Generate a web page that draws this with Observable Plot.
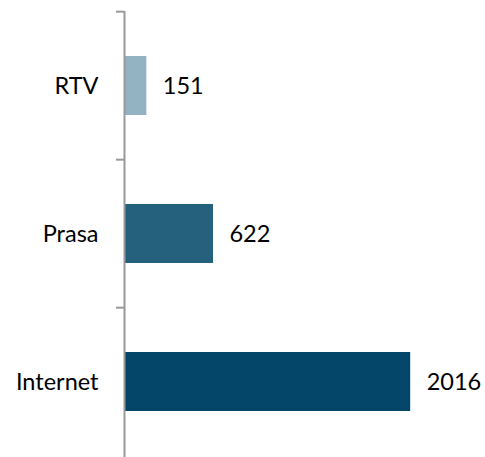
<!DOCTYPE html>
<html>
<head>
<meta charset="utf-8">
<script src="https://cdn.jsdelivr.net/npm/d3@7"></script>
<script src="https://cdn.jsdelivr.net/npm/@observablehq/plot@0.6"></script>
<style>
  html, body { margin: 0; padding: 0; background: #fff; overflow: hidden; }
</style>
</head>
<body>
<div id="chart"></div>
<script>
const categories = ["RTV", "Prasa", "Internet"];
const values = [151, 622, 2016];
const colors = ["#93b3c3", "#25607c", "#03466a"];

const data = categories.map((c, i) => ({category: c, value: values[i], color: colors[i]}));

const height = 457, marginTop = 11, marginBottom = 0;
const step = (height - marginTop - marginBottom) / categories.length;

const chart = Plot.plot({
  width: 485,
  height,
  marginLeft: 125,
  marginRight: 20.5,
  marginTop,
  marginBottom,
  style: {fontFamily: "Lato, sans-serif", fontSize: "23.5px", color: "#000", background: "#fff"},
  x: {domain: [0, 2400], axis: null},
  y: {domain: categories, paddingInner: 0.6, paddingOuter: 0.3, label: null},
  marks: [
    Plot.barX(data, {y: "category", x: "value", fill: "color"}),
    Plot.text(data, {y: "category", x: "value", text: d => String(d.value), textAnchor: "start", dx: 16, fontSize: 23.5, fill: "#000"}),
    Plot.axisY({tickSize: 0, tickPadding: 27, fontSize: 23.5, label: null}),
    Plot.ruleY(categories, {y: d => d, x1: -57, x2: 0, dx: -1, dy: -step / 2, stroke: "#999", strokeWidth: 2, clip: false}),
    Plot.ruleX([0], {dx: -1, stroke: "#999", strokeWidth: 2})
  ]
});
document.getElementById("chart").appendChild(chart);
</script>
</body>
</html>
